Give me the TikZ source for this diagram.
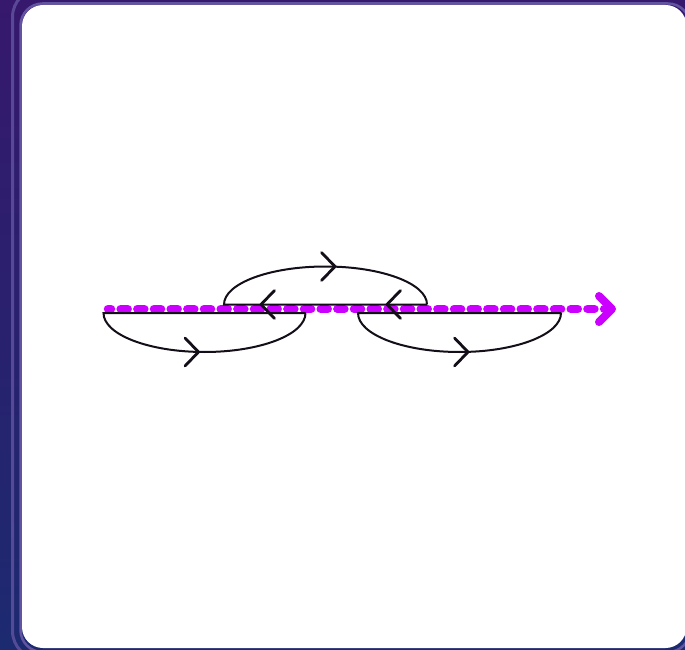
\documentclass[tikz,border=0pt]{standalone}
\usetikzlibrary{calc}
\definecolor{bgtop}{RGB}{54,24,108}
\definecolor{bgbot}{RGB}{28,42,112}
\definecolor{rim}{RGB}{98,84,160}
\definecolor{mag}{RGB}{204,0,255}
\definecolor{ink}{RGB}{20,14,24}
\tikzset{
  loopline/.style={draw=ink, line width=2pt},
  chev/.style={draw=ink, line width=2.8pt, line cap=round, line join=miter},
  magline/.style={draw=mag, line width=8.5pt, line cap=round, dash pattern=on 7pt off 9.67pt, dash phase=4pt},
  magtip/.style={draw=mag, line width=8pt, line cap=round, line join=round},
}
\begin{document}
\begin{tikzpicture}[x=1pt,y=1pt]
\useasboundingbox (0,0) rectangle (685,649);
% background
\shade[top color=bgtop, bottom color=bgbot] (0,0) rectangle (685,649);
\draw[rim, line width=3pt, rounded corners=28pt, opacity=0.8] (12.5,-10) rectangle (700,660);
\draw[rim, line width=2.5pt, rounded corners=22pt] (20.5,-3) rectangle (690,645.5);
\fill[white, rounded corners=21pt] (22,1) rectangle (686.5,644);
% magenta axis
\coordinate (m0) at (108,340);
\coordinate (m1) at (606,340);
\coordinate (mt) at (612,340);
\draw[magline] (m0) -- (m1);
\draw[magtip] ($(mt)+(-13,13)$) -- (mt) -- ($(mt)+(-13,-13)$);
% lower-left loop
\coordinate (la) at (103.5,336);
\coordinate (lb) at (305.5,336);
\draw[loopline] (lb) -- (la) arc[start angle=180, end angle=360, x radius=101, y radius=39];
% upper loop
\coordinate (ua) at (224,344.5);
\coordinate (ub) at (427,344.5);
\draw[loopline] (ub) -- (ua) arc[start angle=180, end angle=0, x radius=101.5, y radius=38];
% lower-right loop
\coordinate (ra) at (358,336);
\coordinate (rb) at (561,336);
\draw[loopline] (rb) -- (ra) arc[start angle=180, end angle=360, x radius=101.5, y radius=39];
% direction chevrons
\coordinate (tA) at (335,382.5);
\coordinate (tB) at (198.5,297);
\coordinate (tC) at (468,297);
\coordinate (tD) at (261,344.5);
\coordinate (tE) at (387,344.5);
\foreach \t in {tA,tB,tC}
  \draw[chev] ($(\t)+(-13.5,14)$) -- (\t) -- ($(\t)+(-13.5,-14)$);
\foreach \t in {tD,tE}
  \draw[chev] ($(\t)+(13.5,14)$) -- (\t) -- ($(\t)+(13.5,-14)$);
\end{tikzpicture}
\end{document}
